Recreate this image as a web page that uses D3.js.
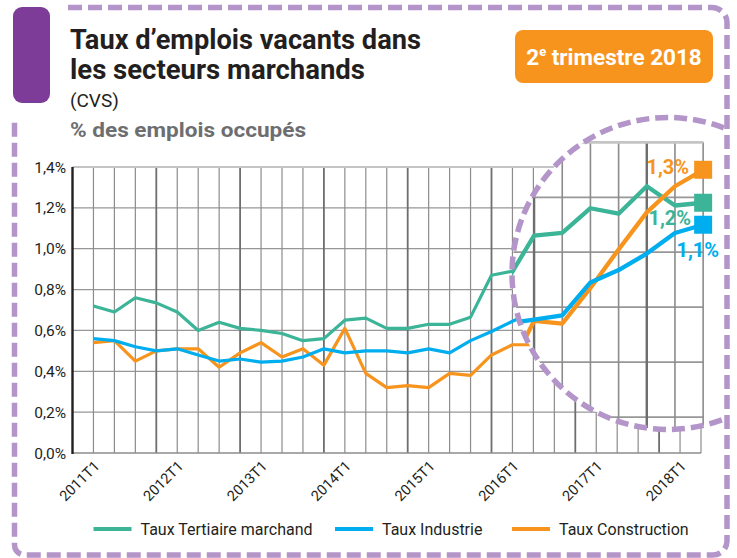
<!DOCTYPE html>
<html>
<head>
<meta charset="utf-8">
<script src="https://cdn.jsdelivr.net/npm/d3@7"></script>
<style>
  body { margin: 0; background: #fff; }
  text { font-family: Roboto, "Liberation Sans", sans-serif; }
</style>
</head>
<body>
<svg id="chart" width="737" height="558"></svg>
<script>
// quarters 2011T1 -> 2018T2
var quarters = ["2011T1","2011T2","2011T3","2011T4","2012T1","2012T2","2012T3","2012T4",
                "2013T1","2013T2","2013T3","2013T4","2014T1","2014T2","2014T3","2014T4",
                "2015T1","2015T2","2015T3","2015T4","2016T1","2016T2","2016T3","2016T4",
                "2017T1","2017T2","2017T3","2017T4","2018T1","2018T2"];
var tickLabels = ["2011T1","2012T1","2013T1","2014T1","2015T1","2016T1","2017T1","2018T1"];
var yTicks = [0, 0.2, 0.4, 0.6, 0.8, 1.0, 1.2, 1.4];

var tertiaire = [0.72,0.69,0.76,0.735,0.69,0.60,0.64,0.61,0.60,0.585,0.55,0.56,0.65,0.66,0.61,0.61,
                 0.63,0.63,0.665,0.87,0.89,0.89,0.89,1.06,1.07,1.16,1.14,1.24,1.17,1.18];
var industrie = [0.56,0.55,0.52,0.50,0.51,0.48,0.45,0.46,0.445,0.45,0.47,0.51,0.49,0.50,0.50,0.49,
                 0.51,0.49,0.55,0.595,0.645,0.69,0.74,0.755,0.77,0.89,0.935,0.995,1.07,1.10];
var construction = [0.54,0.55,0.45,0.50,0.51,0.51,0.42,0.49,0.54,0.47,0.51,0.43,0.61,0.39,0.32,0.33,
                    0.32,0.39,0.38,0.48,0.53,0.53,0.55,0.75,0.74,0.87,1.01,1.145,1.24,1.30];
var lastLabels = ["1,2%", "1,1%", "1,3%"];

var series = [
  {name: "Taux Tertiaire marchand", values: tertiaire, color: "#3bb497", label: lastLabels[0], dx: -12, dy: 22, anchor: "end"},
  {name: "Taux Construction", values: construction, color: "#f7941d", label: lastLabels[2], dx: -14, dy: 4.5, anchor: "end"},
  {name: "Taux Industrie", values: industrie, color: "#00aeef", label: lastLabels[1], dx: 16, dy: 32.5, anchor: "end"}
];
var legendOrder = [series[0], series[2], series[1]];

var purple = "#b495c9";
var svg = d3.select("#chart");

var x = d3.scaleLinear().domain([-1, quarters.length - 1]).range([72.5, 701]);
var y = d3.scaleLinear().domain([0, 1.4]).range([453, 167]);

// magnifying lens
var lens = {cx: 694.8, cy: 238.6, k: 1.345};
var ring = {cx: 668, cy: 273.5, r: 156};
var xl = x.copy().range(x.range().map(function (r) { return lens.cx + lens.k * (r - lens.cx); }));
var yl = y.copy().range(y.range().map(function (r) { return lens.cy + lens.k * (r - lens.cy); }));

function drawPlot(g) {
  g.selectAll(".hgrid")
    .data(yTicks.slice(1, -1))
    .enter().append("line")
    .attr("x1", x(-1)).attr("x2", x(quarters.length - 1))
    .attr("y1", function (d) { return y(d); }).attr("y2", function (d) { return y(d); })
    .attr("stroke", "#979797").attr("stroke-width", 1.3);

  g.selectAll(".vgrid")
    .data(d3.range(quarters.length))
    .enter().append("line")
    .attr("x1", function (d) { return x(d); }).attr("x2", function (d) { return x(d); })
    .attr("y1", y(1.4)).attr("y2", y(0))
    .attr("stroke", function (d) { return d % 4 == 3 ? "#6e6e6e" : "#8c8c8c"; })
    .attr("stroke-width", function (d) { return d % 4 == 3 ? 1.8 : 1.2; });

  g.append("line")
    .attr("x1", x(-1)).attr("x2", x(quarters.length - 1))
    .attr("y1", y(1.4)).attr("y2", y(1.4))
    .attr("stroke", "#c4c4c4").attr("stroke-width", 2);

  g.append("line")
    .attr("x1", x(-1)).attr("x2", x(quarters.length - 1))
    .attr("y1", y(0)).attr("y2", y(0))
    .attr("stroke", "#8c8c8c").attr("stroke-width", 1.6);

  g.append("line")
    .attr("x1", x(-1)).attr("x2", x(-1))
    .attr("y1", y(1.4)).attr("y2", y(0) + 1)
    .attr("stroke", "#231f20").attr("stroke-width", 2.4);

  var line = d3.line()
    .x(function (d, i) { return x(i); })
    .y(function (d) { return y(d); });

  g.selectAll(".serie")
    .data(series)
    .enter().append("path")
    .attr("d", function (d) { return line(d.values); })
    .attr("fill", "none")
    .attr("stroke", function (d) { return d.color; })
    .attr("stroke-width", 3.2)
    .attr("stroke-linejoin", "round");
}

// main chart
svg.append("g").call(drawPlot);

// y labels
svg.selectAll(".ylab")
  .data(yTicks)
  .enter().append("text")
  .attr("x", 66).attr("y", function (d) { return y(d); })
  .attr("dy", "0.36em")
  .attr("text-anchor", "end")
  .attr("font-size", 15.5).attr("fill", "#231f20")
  .text(function (d) { return d.toFixed(1).replace(".", ",") + "%"; });

// x labels
svg.selectAll(".xlab")
  .data(tickLabels)
  .enter().append("text")
  .attr("transform", function (d) { return "translate(" + (x(quarters.indexOf(d)) + 7) + ",467) rotate(-45)"; })
  .attr("text-anchor", "end")
  .attr("font-size", 14.5).attr("fill", "#231f20")
  .text(function (d) { return d; });

// lens
var defs = svg.append("defs");
defs.append("clipPath").attr("id", "ringClip")
  .append("circle").attr("cx", ring.cx).attr("cy", ring.cy).attr("r", ring.r);
defs.append("clipPath").attr("id", "frameClip")
  .append("rect").attr("x", 0).attr("y", 0).attr("width", 726).attr("height", 558);

var lensOuter = svg.append("g").attr("clip-path", "url(#frameClip)");
var lensIn = lensOuter.append("g").attr("clip-path", "url(#ringClip)");
lensIn.append("rect").attr("x", 0).attr("y", 0).attr("width", 737).attr("height", 558).attr("fill", "#fff");
lensIn.append("g")
  .attr("transform", "translate(" + lens.cx + "," + lens.cy + ") scale(" + lens.k + ") translate(" + (-lens.cx) + "," + (-lens.cy) + ")")
  .call(drawPlot);
lensOuter.append("circle")
  .attr("cx", ring.cx).attr("cy", ring.cy).attr("r", ring.r)
  .attr("fill", "none").attr("stroke", purple)
  .attr("stroke-width", 5.5).attr("stroke-dasharray", "13 6");

// end markers + values
var last = quarters.length - 1;
series.forEach(function (s) {
  var px = xl(last), py = yl(s.values[last]);
  svg.append("rect")
    .attr("x", px - 9).attr("y", py - 9).attr("width", 18).attr("height", 18)
    .attr("fill", s.color);
  svg.append("text")
    .attr("x", px + s.dx).attr("y", py + s.dy)
    .attr("text-anchor", s.anchor)
    .attr("font-size", 20).attr("font-weight", "bold")
    .attr("fill", s.color)
    .text(s.label);
});

// dashed frame
svg.append("path")
  .attr("d", "M68,7.5 H712 A15,15 0 0 1 727,22.5 V541 A14,14 0 0 1 713,555 H25 A10.5,10.5 0 0 1 14.5,544.5 V118")
  .attr("fill", "none").attr("stroke", purple)
  .attr("stroke-width", 5.5).attr("stroke-dasharray", "14 6");

// purple tab
svg.append("rect")
  .attr("x", 13).attr("y", 7).attr("width", 37).attr("height", 96).attr("rx", 9)
  .attr("fill", "#7d3c97");

// titles
svg.append("text").attr("x", 70).attr("y", 48.5)
  .attr("font-size", 27).attr("font-weight", "bold").attr("fill", "#231f20")
  .attr("textLength", 351).attr("lengthAdjust", "spacingAndGlyphs")
  .text("Taux d’emplois vacants dans");
svg.append("text").attr("x", 70).attr("y", 78.5)
  .attr("font-size", 27).attr("font-weight", "bold").attr("fill", "#231f20")
  .attr("textLength", 295).attr("lengthAdjust", "spacingAndGlyphs")
  .text("les secteurs marchands");
svg.append("text").attr("x", 70).attr("y", 107)
  .attr("font-size", 19).attr("fill", "#231f20")
  .text("(CVS)");
svg.append("text").attr("x", 70).attr("y", 137)
  .attr("font-size", 20).attr("font-weight", "bold").attr("fill", "#6d6e70")
  .attr("textLength", 236).attr("lengthAdjust", "spacingAndGlyphs")
  .text("% des emplois occupés");

// badge
svg.append("rect")
  .attr("x", 515).attr("y", 30).attr("width", 198).attr("height", 53).attr("rx", 8)
  .attr("fill", "#f7941d");
var badge = svg.append("text").attr("x", 614).attr("y", 65)
  .attr("text-anchor", "middle")
  .attr("font-size", 22.5).attr("font-weight", "bold").attr("fill", "#fff");
badge.append("tspan").text("2");
badge.append("tspan").attr("font-size", 13).attr("dy", -9).text("e");
badge.append("tspan").attr("dy", 9).text(" trimestre 2018");

// legend
var legendX = [93.5, 335, 512];
var legend = svg.selectAll(".legend")
  .data(legendOrder)
  .enter().append("g")
  .attr("transform", function (d, i) { return "translate(" + legendX[i] + ",529)"; });
legend.append("line")
  .attr("x1", 0).attr("x2", 38).attr("y1", 0).attr("y2", 0)
  .attr("stroke", function (d) { return d.color; }).attr("stroke-width", 4);
legend.append("text")
  .attr("x", 47).attr("y", 5.5)
  .attr("font-size", 16).attr("fill", "#231f20")
  .text(function (d) { return d.name; });
</script>
</body>
</html>
